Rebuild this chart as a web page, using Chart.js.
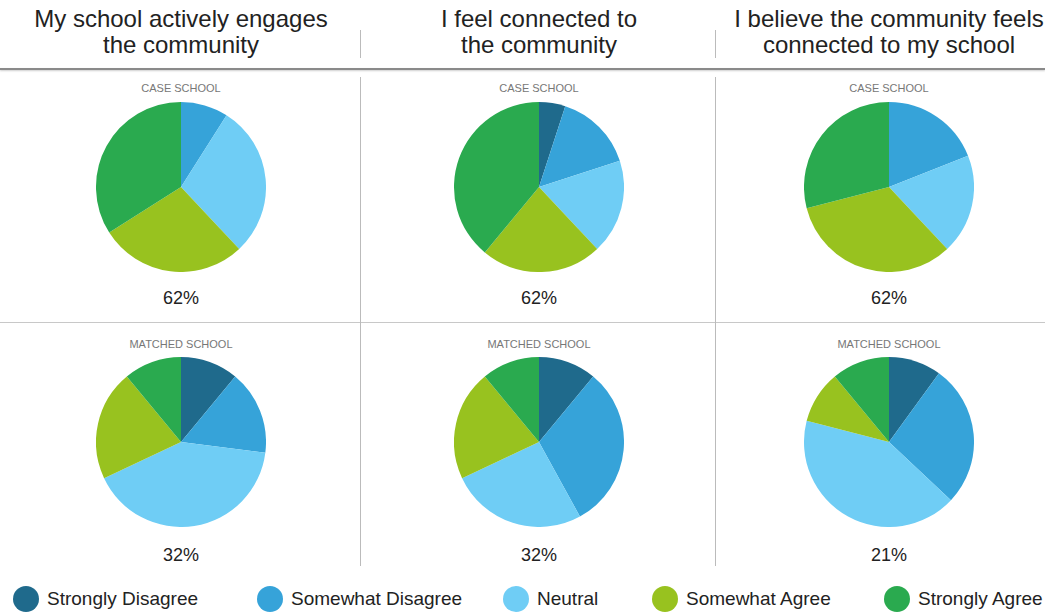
<!DOCTYPE html>
<html>
<head>
<meta charset="utf-8">
<script src="https://cdn.jsdelivr.net/npm/chart.js@4"></script>
<style>
  html, body { margin: 0; padding: 0; background: #fff; }
  body { width: 1045px; height: 614px; position: relative; overflow: hidden; font-family: "Liberation Sans", Arial, sans-serif; color: #222; }
  .title { position: absolute; top: 6px; width: 360px; text-align: center; font-size: 24px; line-height: 26px; }
  .rule { position: absolute; left: 0; width: 1045px; }
  .vsep { position: absolute; width: 1px; background: #bbb; }
  .sub { position: absolute; width: 200px; text-align: center; font-size: 11px; color: #777; }
  .pct { position: absolute; width: 200px; text-align: center; font-size: 18px; color: #222; }
  .pie { position: absolute; }
  .legend { position: absolute; top: 586px; display: flex; align-items: center; font-size: 19px; }
  .legend span.dot { display: inline-block; width: 26px; height: 26px; border-radius: 50%; margin-right: 8px; }
</style>
</head>
<body>
<script>
// answer scale, in slice order (clockwise from 12 o'clock)
const categories = ['Strongly Disagree', 'Somewhat Disagree', 'Neutral', 'Somewhat Agree', 'Strongly Agree'];
const colors = ['#1f6a8c', '#36a3d9', '#6fcdf5', '#98c21f', '#2aaa4f'];

const questions = [
  ['My school actively engages', 'the community'],
  ['I feel connected to', 'the community'],
  ['I believe the community feels', 'connected to my school']
];

// percent of respondents per category, one array per question
const caseSchool = [
  [0, 9, 29, 28, 34],
  [5, 15, 18, 23, 39],
  [0, 19, 19, 33, 29]
];
const matchedSchool = [
  [11, 16, 41, 21, 11],
  [11, 31, 26, 21, 11],
  [10, 27, 42, 10, 11]
];

const colCenters = [181, 539, 889];
const rows = [
  { label: 'CASE SCHOOL', data: caseSchool, cy: 187, subY: 82, pctY: 288 },
  { label: 'MATCHED SCHOOL', data: matchedSchool, cy: 442, subY: 338, pctY: 545 }
];
const R = 85;

function add(tag, cls, css, text) {
  const el = document.createElement(tag);
  if (cls) el.className = cls;
  Object.assign(el.style, css);
  if (text != null) el.textContent = text;
  document.body.appendChild(el);
  return el;
}

// headers
questions.forEach((q, i) => {
  const t = add('div', 'title', { left: (colCenters[i] - 180) + 'px' });
  t.innerHTML = q[0] + '<br>' + q[1];
});

// rules and separators
add('div', 'rule', { top: '68px', height: '2px', background: '#8a8a8a', boxShadow: '0 1px 2px #ccc' });
add('div', 'rule', { top: '322px', height: '1px', background: '#c8c8c8' });
[360, 715].forEach(x => {
  add('div', 'vsep', { left: x + 'px', top: '30px', height: '28px' });
  add('div', 'vsep', { left: x + 'px', top: '77px', height: '489px' });
});

// agree share = somewhat agree + strongly agree
const agreeShare = d => d[3] + d[4];

rows.forEach(row => {
  row.data.forEach((vals, i) => {
    const cx = colCenters[i];
    add('div', 'sub', { left: (cx - 100) + 'px', top: row.subY + 'px' }, row.label);
    add('div', 'pct', { left: (cx - 100) + 'px', top: row.pctY + 'px' }, agreeShare(vals) + '%');
    const wrap = add('div', 'pie', { left: (cx - R) + 'px', top: (row.cy - R) + 'px', width: 2 * R + 'px', height: 2 * R + 'px' });
    const cv = document.createElement('canvas');
    wrap.appendChild(cv);
    new Chart(cv.getContext('2d'), {
      type: 'pie',
      data: {
        labels: categories,
        datasets: [{ data: vals, backgroundColor: colors, borderWidth: 0 }]
      },
      options: {
        responsive: true,
        maintainAspectRatio: false,
        animation: false,
        plugins: { legend: { display: false }, tooltip: { enabled: false } }
      }
    });
  });
});

// legend
const legendX = [13, 257, 503, 652, 884];
categories.forEach((c, i) => {
  const item = add('div', 'legend', { left: legendX[i] + 'px' });
  const dot = document.createElement('span');
  dot.className = 'dot';
  dot.style.background = colors[i];
  item.appendChild(dot);
  item.appendChild(document.createTextNode(c));
});
</script>
</body>
</html>
